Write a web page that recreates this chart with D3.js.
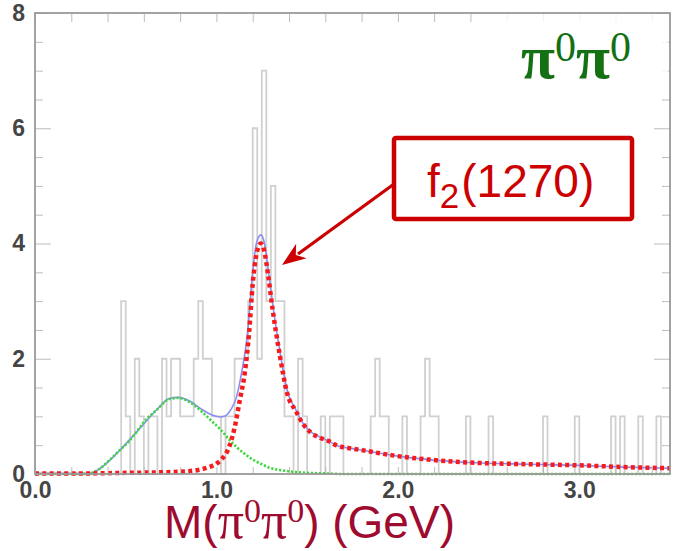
<!DOCTYPE html>
<html>
<head>
<meta charset="utf-8">
<script src="https://cdn.jsdelivr.net/npm/d3@7"></script>
<style>
body { margin: 0; background: #fff; }
svg { display: block; }
</style>
</head>
<body>
<svg class="chart" width="673" height="551"></svg>
<script>
// histogram: 0.025 GeV bins, only the non-empty ones are listed
var binWidth = 0.025;
var binLow = [0.475, 0.5, 0.55, 0.575, 0.625, 0.65, 0.7, 0.725, 0.75, 0.775, 0.8, 0.825, 0.85, 0.875,
    0.9, 0.925, 0.95, 0.975, 1.0, 1.05, 1.075, 1.1, 1.125, 1.15, 1.175, 1.2, 1.225, 1.25, 1.275, 1.3,
    1.325, 1.35, 1.375, 1.4, 1.45, 1.475, 1.575, 1.625, 1.65, 1.675, 1.85, 1.875, 1.9, 1.925, 2.025,
    2.125, 2.15, 2.175, 2.2, 2.375, 2.5, 2.8, 2.975, 3.175, 3.225, 3.325, 3.425];
var binCount = [3, 1, 2, 1, 1, 1, 2, 1, 2, 2, 1, 1, 1, 2,
    3, 2, 2, 1, 1, 1, 1, 2, 2, 2, 3, 6, 2, 7, 3, 5,
    3, 3, 1, 1, 2, 1, 1, 1, 1, 1, 1, 2, 1, 1, 1,
    1, 2, 1, 1, 1, 1, 1, 1, 1, 1, 1, 1];

// broad S-wave component (green)
var greenMass = [0.0, 0.25, 0.30, 0.36, 0.41, 0.47, 0.51, 0.56, 0.60, 0.67, 0.74, 0.79, 0.85, 0.92,
    0.98, 1.02, 1.07, 1.11, 1.16, 1.20, 1.25, 1.29, 1.35, 1.42, 1.50, 1.60, 1.70, 3.5];
var greenVal = [0, 0, 0.01, 0.10, 0.24, 0.42, 0.54, 0.73, 0.90, 1.11, 1.30, 1.32, 1.25, 1.08,
    0.90, 0.78, 0.60, 0.47, 0.34, 0.25, 0.17, 0.11, 0.07, 0.04, 0.02, 0.01, 0, 0];

// f2(1270) component (red)
var redMass = [0.0, 0.3, 0.5, 0.7, 0.8, 0.9, 0.95, 1.0, 1.03, 1.07, 1.10, 1.13, 1.156, 1.18, 1.20,
    1.22, 1.245, 1.265, 1.285, 1.31, 1.35, 1.39, 1.44, 1.475, 1.52, 1.57, 1.62, 1.66, 1.75, 1.83,
    1.9, 2.0, 2.17, 2.39, 2.72, 3.0, 3.25, 3.5];
var redVal = [0.01, 0.01, 0.02, 0.03, 0.04, 0.07, 0.11, 0.18, 0.26, 0.47, 0.80, 1.30, 1.75, 2.45, 3.3,
    3.8, 4.0, 3.85, 3.45, 2.85, 2.05, 1.40, 1.08, 0.88, 0.72, 0.63, 0.57, 0.50, 0.44, 0.40,
    0.36, 0.31, 0.25, 0.20, 0.17, 0.15, 0.12, 0.10];

// total fit (blue)
var blueMass = [0.0, 0.30, 0.36, 0.47, 0.56, 0.67, 0.74, 0.79, 0.85, 0.92, 0.98, 1.02, 1.05, 1.08,
    1.11, 1.14, 1.17, 1.20, 1.22, 1.245, 1.265, 1.285, 1.31, 1.35, 1.39, 1.44, 1.475, 1.52, 1.57,
    1.62, 1.66, 1.75, 1.83, 1.9, 2.0, 2.17, 2.39, 2.72, 3.0, 3.25, 3.5];
var blueVal = [0.01, 0.01, 0.10, 0.42, 0.73, 1.11, 1.31, 1.33, 1.27, 1.12, 1.02, 0.99, 1.01, 1.12,
    1.33, 1.78, 2.4, 3.5, 4.0, 4.15, 4.0, 3.55, 2.95, 2.12, 1.45, 1.10, 0.89, 0.73, 0.64,
    0.57, 0.50, 0.44, 0.40, 0.36, 0.31, 0.25, 0.20, 0.17, 0.15, 0.12, 0.10];

var xLabelVals = [0, 1, 2, 3];
var xLabels = ["0.0", "1.0", "2.0", "3.0"];
var yLabelVals = [0, 2, 4, 6, 8];
var yLabels = ["0", "2", "4", "6", "8"];

var svg = d3.select("svg.chart");
var plotL = 35, plotR = 670, plotT = 13, plotB = 474;

var x = d3.scaleLinear().domain([0, 3.5]).range([plotL, plotR]);
var y = d3.scaleLinear().domain([0, 8]).range([plotB, plotT]);

// histogram outline
var nBins = Math.round(3.5 / binWidth);
var counts = [];
for (var i = 0; i < nBins; i++) counts.push(0);
binLow.forEach(function(b, k) { counts[Math.round(b / binWidth)] = binCount[k]; });
var steps = counts.map(function(c, i) { return [i * binWidth, c]; });
steps.push([3.5, counts[nBins - 1]]);

var stepLine = d3.line()
    .x(function(d) { return x(d[0]); })
    .y(function(d) { return y(d[1]); })
    .curve(d3.curveStepAfter);

svg.append("path")
    .datum(steps)
    .attr("d", stepLine)
    .attr("fill", "none")
    .attr("stroke", "#d0d0d0")
    .attr("stroke-width", 1.8);

// fit curves
var fitLine = d3.line()
    .x(function(d) { return x(d[0]); })
    .y(function(d) { return y(d[1]); })
    .curve(d3.curveMonotoneX);

function pairs(ms, vs) { return ms.map(function(m, i) { return [m, vs[i]]; }); }

svg.append("path")
    .datum(pairs(blueMass, blueVal))
    .attr("d", fitLine)
    .attr("fill", "none")
    .attr("stroke", "#8c8cf5")
    .attr("stroke-width", 1.6);

svg.append("path")
    .datum(pairs(greenMass, greenVal))
    .attr("d", fitLine)
    .attr("fill", "none")
    .attr("stroke", "#3ed83e")
    .attr("stroke-width", 2.6)
    .attr("stroke-dasharray", "2.2,1.8");

svg.append("path")
    .datum(pairs(redMass, redVal))
    .attr("d", fitLine)
    .attr("fill", "none")
    .attr("stroke", "#f41c1c")
    .attr("stroke-width", 4.5)
    .attr("stroke-dasharray", "4,3.3");

// frame + inward ticks
var tickCol = "#bdbdbd";
var xMinor = d3.range(0, 3.5, 0.2);
var yMinor = d3.range(0, 8.01, 0.5);

svg.append("g")
    .attr("transform", "translate(0," + plotB + ")")
    .call(d3.axisTop(x).tickValues(xMinor).tickSize(7).tickFormat(""))
    .call(function(g) { g.select(".domain").remove(); g.selectAll("line").attr("stroke", tickCol); });

svg.append("g")
    .attr("transform", "translate(0," + plotT + ")")
    .call(d3.axisBottom(x).tickValues(xMinor).tickSize(9).tickFormat(""))
    .call(function(g) { g.select(".domain").remove(); g.selectAll("line").attr("stroke", tickCol); });

svg.append("g")
    .attr("transform", "translate(" + plotL + ",0)")
    .call(d3.axisRight(y).tickValues(yMinor).tickSize(8).tickFormat(""))
    .call(function(g) {
        g.select(".domain").remove();
        g.selectAll("line").attr("stroke", tickCol)
            .attr("x2", function(d) { return d % 2 === 0 ? 16 : 8; });
    });

svg.append("g")
    .attr("transform", "translate(" + plotR + ",0)")
    .call(d3.axisLeft(y).tickValues(yMinor).tickSize(8).tickFormat(""))
    .call(function(g) {
        g.select(".domain").remove();
        g.selectAll("line").attr("stroke", tickCol)
            .attr("x2", function(d) { return d % 2 === 0 ? -16 : -8; });
    });

// faded patch behind the pi0pi0 tag
svg.append("rect")
    .attr("x", 490).attr("y", plotT + 1)
    .attr("width", plotR - 492).attr("height", 78)
    .attr("fill", "#fff").attr("opacity", 0.8);

svg.append("rect")
    .attr("x", plotL).attr("y", plotT)
    .attr("width", plotR - plotL).attr("height", plotB - plotT)
    .attr("fill", "none")
    .attr("stroke", "#9a9a9a")
    .attr("stroke-width", 1.8);

// tick labels
svg.append("g")
    .attr("transform", "translate(0," + plotB + ")")
    .call(d3.axisBottom(x).tickValues(xLabelVals).tickSize(0).tickPadding(8)
        .tickFormat(function(d, i) { return xLabels[i]; }))
    .call(function(g) {
        g.select(".domain").remove();
        g.selectAll("text")
            .attr("font-family", "Liberation Sans, Arial, sans-serif")
            .attr("font-size", 23).attr("font-weight", "bold").attr("fill", "#454545");
    });

svg.append("g")
    .attr("transform", "translate(" + plotL + ",0)")
    .call(d3.axisLeft(y).tickValues(yLabelVals).tickSize(0).tickPadding(10)
        .tickFormat(function(d, i) { return yLabels[i]; }))
    .call(function(g) {
        g.select(".domain").remove();
        g.selectAll("text")
            .attr("font-family", "Liberation Sans, Arial, sans-serif")
            .attr("font-size", 23).attr("font-weight", "bold").attr("fill", "#454545");
    });

// axis title
var title = svg.append("text")
    .attr("x", 164).attr("y", 538)
    .attr("fill", "#9e0b2f")
    .attr("font-family", "Liberation Sans, Arial, sans-serif")
    .attr("font-size", 46);
title.append("tspan").text("M(");
title.append("tspan").attr("font-family", "Liberation Serif, serif").attr("font-size", 52).text("π");
title.append("tspan").attr("font-family", "Liberation Serif, serif").attr("font-size", 34).attr("dy", -16).text("0");
title.append("tspan").attr("font-family", "Liberation Serif, serif").attr("font-size", 52).attr("dy", 16).text("π");
title.append("tspan").attr("font-family", "Liberation Serif, serif").attr("font-size", 34).attr("dy", -16).text("0");
title.append("tspan").attr("dy", 16).text(") (GeV)");

// pi0pi0 tag
var tag = svg.append("text")
    .attr("x", 521).attr("y", 78)
    .attr("fill", "#137013")
    .attr("font-family", "Liberation Serif, serif")
    .attr("font-weight", "bold")
    .attr("font-size", 62);
tag.append("tspan").text("π");
tag.append("tspan").attr("font-size", 42).attr("font-weight", "normal").attr("dy", -17).text("0");
tag.append("tspan").attr("dy", 17).text("π");
tag.append("tspan").attr("font-size", 42).attr("font-weight", "normal").attr("dy", -17).text("0");

// f2(1270) call-out
var red = "#cc0000";
svg.append("line")
    .attr("x1", 394).attr("y1", 184)
    .attr("x2", 298).attr("y2", 254)
    .attr("stroke", red).attr("stroke-width", 3.2);

var ang = Math.atan2(265 - 184, 282 - 394);
var tip = [282, 265];
var hl = 24, hw = 9;
var bx = tip[0] - hl * Math.cos(ang), by = tip[1] - hl * Math.sin(ang);
svg.append("path")
    .attr("d", "M" + tip[0] + "," + tip[1] +
        "L" + (bx + hw * Math.sin(ang)) + "," + (by - hw * Math.cos(ang)) +
        "L" + (tip[0] - 17 * Math.cos(ang)) + "," + (tip[1] - 17 * Math.sin(ang)) +
        "L" + (bx - hw * Math.sin(ang)) + "," + (by + hw * Math.cos(ang)) + "Z")
    .attr("fill", red);

svg.append("rect")
    .attr("x", 394).attr("y", 138)
    .attr("width", 238).attr("height", 81)
    .attr("rx", 2)
    .attr("fill", "#fff")
    .attr("stroke", red).attr("stroke-width", 4.5);

var f2 = svg.append("text")
    .attr("x", 427).attr("y", 197)
    .attr("fill", red)
    .attr("font-family", "Liberation Sans, Arial, sans-serif")
    .attr("font-size", 46);
f2.append("tspan").text("f");
f2.append("tspan").attr("font-size", 35).attr("dy", 11).text("2");
f2.append("tspan").attr("dy", -11).attr("dx", 2).text("(1270)");
</script>
</body>
</html>
